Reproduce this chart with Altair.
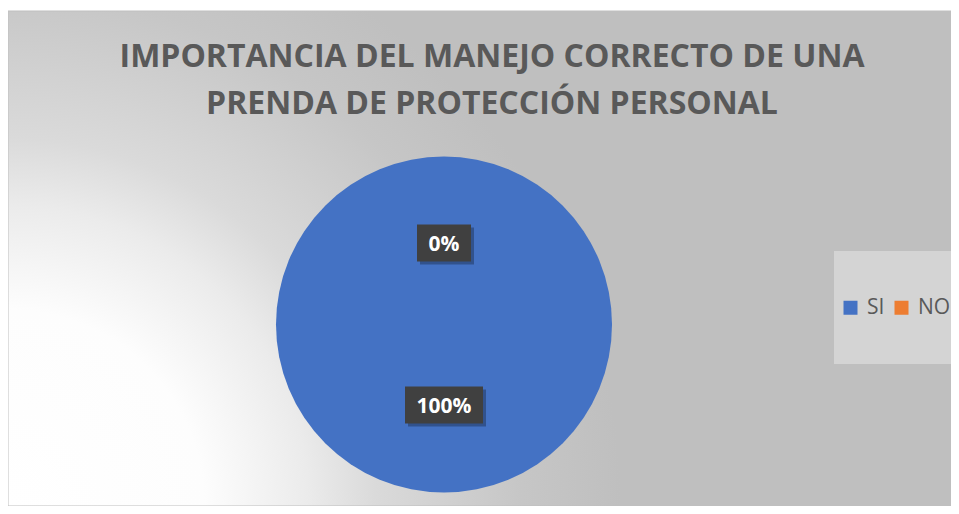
import altair as alt
import pandas as pd

# ---- data ----
categorias = ["SI", "NO"]
valores = [100, 0]
etiquetas = ["100%", "0%"]
orden = [0, 1]
colores = ["#4472C4", "#ED7D31"]
titulo = ["IMPORTANCIA DEL MANEJO CORRECTO DE UNA", "PRENDA DE PROTECCIÓN PERSONAL"]

df = pd.DataFrame({"cat": categorias, "valor": valores, "etiqueta": etiquetas, "orden": orden})

W, H = 943, 495
CX, CY, R = 436, 313.5, 168
RL = 81

color_enc = alt.Color(
    "cat:N",
    scale=alt.Scale(domain=categorias, range=colores),
    sort=categorias,
    legend=alt.Legend(
        title=None,
        orient="none",
        legendX=832,
        legendY=286,
        direction="horizontal",
        symbolType="square",
        symbolSize=196,
        symbolStrokeWidth=0,
        labelFont="Open Sans",
        labelFontSize=21,
        labelColor="#595959",
        labelOffset=6,
        columnPadding=6,
        padding=0,
    ),
)

base = alt.Chart(df)
one = pd.DataFrame({"a": [0]})

grad = alt.RadialGradient(
    gradient="radial",
    stops=[
        alt.GradientStop(offset=0, color="#ffffff"),
        alt.GradientStop(offset=0.32, color="#fdfdfd"),
        alt.GradientStop(offset=0.49, color="#ebebeb"),
        alt.GradientStop(offset=0.6, color="#dadada"),
        alt.GradientStop(offset=0.72, color="#d0d0d0"),
        alt.GradientStop(offset=0.84, color="#c6c6c6"),
        alt.GradientStop(offset=1, color="#bfbfbf"),
    ],
    x1=0, y1=0.7625, x2=0, y2=0.7625, r1=0, r2=0.65,
)

background = alt.Chart(one).mark_rect(color=grad, stroke="#bfbfbf", strokeWidth=1).encode(
    x=alt.value(0), x2=alt.value(W), y=alt.value(0), y2=alt.value(H)
)

legend_box = alt.Chart(one).mark_rect(color="#d4d4d4").encode(
    x=alt.value(826), x2=alt.value(W), y=alt.value(240), y2=alt.value(353)
)

pie = base.mark_arc(radius=R, strokeWidth=0).encode(
    theta=alt.Theta("valor:Q", stack=True),
    color=color_enc,
    order=alt.Order("orden:Q"),
    x=alt.value(CX),
    y=alt.value(CY),
)

boxes_base = base.transform_window(
    cum="sum(valor)", sort=[alt.SortField("orden")], frame=[None, 0]
).transform_joinaggregate(
    total="sum(valor)"
).transform_calculate(
    mid="2*PI*(datum.cum - datum.valor/2)/datum.total",
).transform_calculate(
    bx=f"{CX} + {RL}*sin(datum.mid)",
    by=f"{CY} - {RL}*cos(datum.mid)",
    bw="30 + 12*length(datum.etiqueta)",
).transform_calculate(
    bx1="datum.bx - datum.bw/2",
    bx2="datum.bx + datum.bw/2",
    by1="datum.by - 19",
    by2="datum.by + 18",
    sx1="datum.bx - datum.bw/2 + 3",
    sx2="datum.bx + datum.bw/2 + 3",
    sy1="datum.by - 19 + 3",
    sy2="datum.by + 18 + 3",
)

shadow = boxes_base.mark_rect(color="#000000", opacity=0.28).encode(
    x=alt.X("sx1:Q", scale=None, axis=None),
    x2="sx2:Q",
    y=alt.Y("sy1:Q", scale=None, axis=None),
    y2="sy2:Q",
)

boxes = boxes_base.mark_rect(color="#404040").encode(
    x=alt.X("bx1:Q", scale=None, axis=None),
    x2="bx2:Q",
    y=alt.Y("by1:Q", scale=None, axis=None),
    y2="by2:Q",
)

text = base.mark_text(
    radius=RL, font="Open Sans", fontWeight="bold", fontSize=21, color="white",
    baseline="middle", align="center", dy=1,
).encode(
    theta=alt.Theta("valor:Q", stack=True),
    order=alt.Order("orden:Q"),
    text="etiqueta:N",
    x=alt.value(CX),
    y=alt.value(CY),
)

chart = alt.layer(background, legend_box, pie, shadow, boxes, text).properties(
    width=W,
    height=H,
    autosize=alt.AutoSizeParams(type="none"),
    padding={"left": 0, "right": 0, "top": 3, "bottom": 0},
    background="white",
    title=alt.TitleParams(
        text=titulo,
        font="Open Sans",
        fontSize=32,
        fontWeight="bold",
        color="#595959",
        lineHeight=47,
        anchor="middle",
        dx=12.5,
        offset=-135,
        baseline="alphabetic",
    ),
).configure_view(
    stroke=None,
)

chart.save("out.html", embed_options={"renderer": "svg", "actions": False})
